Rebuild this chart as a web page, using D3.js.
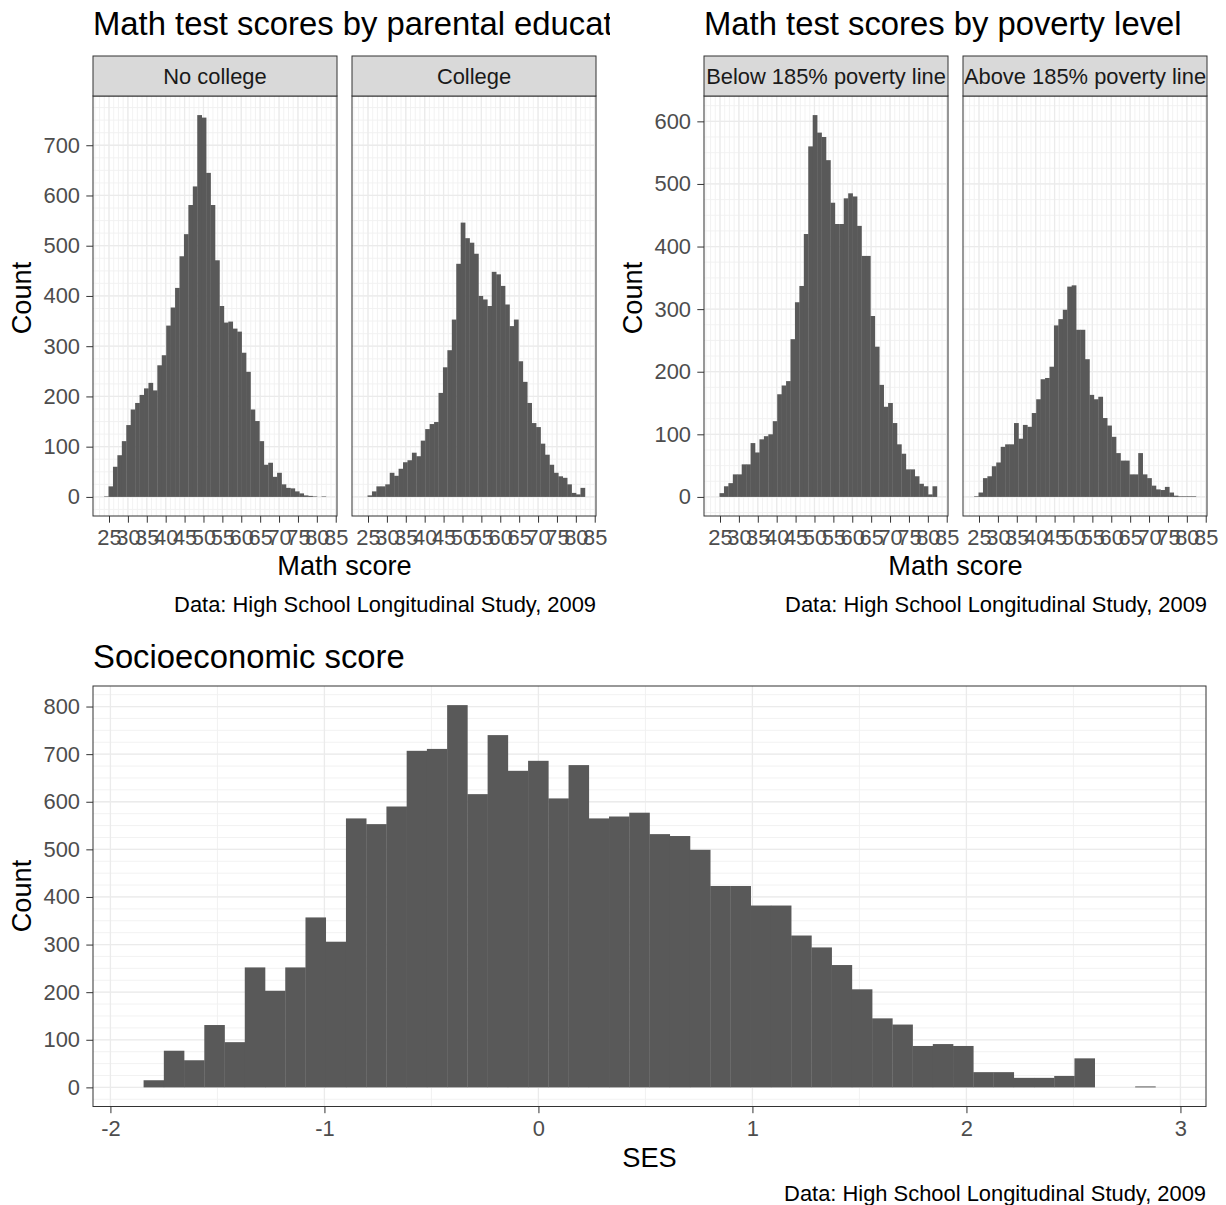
<!DOCTYPE html>
<html>
<head>
<meta charset="utf-8">
<title>HSLS 2009 histograms</title>
<script src="https://d3js.org/d3.v7.min.js"></script>
<style>
  body { margin: 0; background: #fff; }
  svg text { font-family: "Liberation Sans", Arial, Helvetica, sans-serif; }
  .bar { fill: #595959; }
  .grid-major { stroke: #EBEBEB; stroke-width: 1.3; }
  .grid-minor { stroke: #F0F0F0; stroke-width: 0.9; }
  .border { fill: none; stroke: #333; stroke-width: 1; }
  .strip { fill: #D9D9D9; stroke: #333; stroke-width: 1; }
  .title { font-size: 32.8px; fill: #000; }
  .axis-title { font-size: 27.2px; fill: #000; }
  .caption { font-size: 21.9px; fill: #000; }
  .strip-text { font-size: 21.9px; fill: #1A1A1A; }
</style>
</head>
<body>
<script>
    var W = 1226, H = 1205;

    // math score histograms: 50 shared bins
    var mathBinStart = 23.7, mathBinWidth = 1.174;
    var mathTicks = [25, 30, 35, 40, 45, 50, 55, 60, 65, 70, 75, 80, 85];
    var noCollege = [1, 21, 60, 83, 111, 143, 174, 187, 203, 216, 227, 212, 262, 282, 341, 377, 416, 479, 523, 581,
        618, 760, 755, 645, 581, 471, 380, 347, 349, 335, 329, 287, 249, 174, 151, 111, 64, 68, 40, 48,
        25, 18, 17, 11, 7, 3, 2, 1, 0, 1];
    var college = [0, 3, 11, 21, 21, 25, 48, 42, 56, 69, 73, 88, 81, 112, 135, 145, 149, 207, 258, 292,
        353, 464, 546, 515, 506, 484, 400, 393, 380, 448, 443, 420, 383, 340, 353, 270, 229, 187, 147, 139,
        106, 84, 64, 48, 41, 38, 25, 8, 5, 18];
    var belowPoverty = [0, 6, 17, 22, 36, 36, 52, 52, 86, 71, 92, 97, 100, 121, 164, 178, 185, 252, 311, 337,
        420, 560, 610, 582, 575, 538, 470, 436, 436, 477, 485, 480, 433, 385, 385, 289, 240, 179, 144, 150,
        118, 84, 69, 44, 44, 33, 21, 17, 4, 17];
    var abovePoverty = [1, 7, 30, 33, 49, 55, 80, 84, 84, 118, 93, 115, 112, 134, 156, 188, 190, 208, 274, 284,
        299, 336, 338, 267, 267, 220, 163, 156, 160, 126, 114, 96, 70, 58, 58, 36, 36, 70, 36, 30,
        18, 12, 11, 16, 7, 2, 1, 1, 1, 1];
    var parentLabels = ["No college", "College"];
    var povertyLabels = ["Below 185% poverty line", "Above 185% poverty line"];

    // socioeconomic score histogram
    var sesBinStart = -1.845, sesBinWidth = 0.09456;
    var sesTicks = [-2, -1, 0, 1, 2, 3];
    var sesCounts = [15, 77, 57, 131, 95, 252, 203, 252, 357, 306, 565, 553, 590, 707, 711, 803, 616, 740, 665, 686,
        607, 677, 565, 569, 577, 532, 528, 499, 423, 423, 382, 382, 319, 294, 257, 206, 145, 132, 87, 91,
        87, 32, 32, 20, 20, 24, 61, 0, 0, 2];

    var caption = "Data: High School Longitudinal Study, 2009";

    var svg = d3.select("body").append("svg")
        .attr("width", W)
        .attr("height", H);

    function edges(start, w, n) {
        return d3.range(n + 1).map(i => start + i * w);
    }

    // x scale with ggplot's 5% expansion around the bins
    function xScaleFor(e, x0, x1) {
        var lo = e[0], hi = e[e.length - 1], pad = (hi - lo) * 0.05;
        return d3.scaleLinear().domain([lo - pad, hi + pad]).range([x0, x1]);
    }

    function yScaleFor(maxCount, top, bottom) {
        return d3.scaleLinear().domain([-0.05 * maxCount, 1.05 * maxCount]).range([bottom, top]);
    }

    function stepValues(domain, step) {
        var a = Math.ceil(domain[0] / step - 1e-9), b = Math.floor(domain[1] / step + 1e-9);
        return d3.range(a, b + 1).map(i => i * step);
    }

    function panel(g, x, y, e, counts, vStep, vMinorStep, hStep, hMinorStep) {
        var xr = x.range(), yr = y.range();
        g.append("rect")
            .attr("x", xr[0]).attr("y", yr[1])
            .attr("width", xr[1] - xr[0]).attr("height", yr[0] - yr[1])
            .attr("fill", "#fff");

        var vMinor = stepValues(x.domain(), vMinorStep);
        var hMinor = stepValues(y.domain(), hMinorStep);
        g.selectAll(".vmin").data(vMinor).enter().append("line")
            .attr("class", "grid-minor")
            .attr("x1", d => x(d)).attr("x2", d => x(d))
            .attr("y1", yr[1]).attr("y2", yr[0]);
        g.selectAll(".hmin").data(hMinor).enter().append("line")
            .attr("class", "grid-minor")
            .attr("y1", d => y(d)).attr("y2", d => y(d))
            .attr("x1", xr[0]).attr("x2", xr[1]);

        g.selectAll(".vmaj").data(stepValues(x.domain(), vStep)).enter().append("line")
            .attr("class", "grid-major")
            .attr("x1", d => x(d)).attr("x2", d => x(d))
            .attr("y1", yr[1]).attr("y2", yr[0]);
        g.selectAll(".hmaj").data(stepValues(y.domain(), hStep)).enter().append("line")
            .attr("class", "grid-major")
            .attr("y1", d => y(d)).attr("y2", d => y(d))
            .attr("x1", xr[0]).attr("x2", xr[1]);

        g.selectAll(".bar").data(counts).enter().append("rect")
            .attr("class", "bar")
            .attr("x", (d, i) => x(e[i]))
            .attr("width", (d, i) => x(e[i + 1]) - x(e[i]) + 0.3)
            .attr("y", d => y(d))
            .attr("height", d => y(0) - y(d));

        g.append("rect")
            .attr("class", "border")
            .attr("x", xr[0]).attr("y", yr[1])
            .attr("width", xr[1] - xr[0]).attr("height", yr[0] - yr[1]);
    }

    function styleAxis(a) {
        a.select(".domain").remove();
        a.selectAll(".tick line").attr("stroke", "#333").attr("stroke-width", 1);
        a.selectAll(".tick text")
            .attr("fill", "#4D4D4D")
            .style("font-size", "21.9px")
            .style("font-family", "'Liberation Sans', Arial, sans-serif");
    }

    // plain hyphen minus, like R prints it
    var plain = d => String(d);

    function yAxis(g, y, ticks, xPos) {
        var a = g.append("g")
            .attr("transform", "translate(" + xPos + ",0)")
            .call(d3.axisLeft(y).tickValues(ticks).tickFormat(plain).tickSize(6.7).tickPadding(6.3));
        styleAxis(a);
    }

    function xAxis(g, x, ticks, yPos) {
        var a = g.append("g")
            .attr("transform", "translate(0," + yPos + ")")
            .call(d3.axisBottom(x).tickValues(ticks).tickFormat(plain).tickSize(6.7).tickPadding(6.8));
        styleAxis(a);
    }

    // one faceted figure (two panels with strips)
    function facetFigure(o) {
        var g = svg.append("g");
        var clipId = "clip" + o.id;
        svg.append("clipPath").attr("id", clipId)
            .append("rect").attr("x", o.clip[0]).attr("y", 0)
            .attr("width", o.clip[1] - o.clip[0]).attr("height", 60);

        g.append("text").attr("class", "title")
            .attr("clip-path", "url(#" + clipId + ")")
            .attr("x", o.panels[0][0]).attr("y", 34.5)
            .text(o.title);

        var e = edges(mathBinStart, mathBinWidth, o.series[0].length);
        var maxCount = d3.max(o.series, s => d3.max(s));
        var y = yScaleFor(maxCount, 96, 516);

        o.panels.forEach(function (p, i) {
            var x = xScaleFor(e, p[0], p[1]);
            var pg = g.append("g");
            panel(pg, x, y, e, o.series[i], 5, 1.25, 100, 25);

            var sid = "strip" + o.id + i;
            svg.append("clipPath").attr("id", sid)
                .append("rect").attr("x", p[0]).attr("y", 56)
                .attr("width", p[1] - p[0]).attr("height", 40);
            pg.append("rect").attr("class", "strip")
                .attr("x", p[0]).attr("y", 56)
                .attr("width", p[1] - p[0]).attr("height", 40);
            pg.append("text").attr("class", "strip-text")
                .attr("clip-path", "url(#" + sid + ")")
                .attr("x", (p[0] + p[1]) / 2).attr("y", 83.5)
                .attr("text-anchor", "middle")
                .text(o.labels[i]);

            xAxis(pg, x, mathTicks, 516);
            if (i === 0) yAxis(pg, y, d3.range(0, maxCount, 100), p[0]);
        });

        var mid = (o.panels[0][0] + o.panels[1][1]) / 2;
        g.append("text").attr("class", "axis-title")
            .attr("x", mid).attr("y", 575)
            .attr("text-anchor", "middle")
            .text("Math score");
        g.append("text").attr("class", "axis-title")
            .attr("transform", "translate(" + o.countX + ",298) rotate(-90)")
            .attr("text-anchor", "middle")
            .text("Count");
        g.append("text").attr("class", "caption")
            .attr("x", o.panels[1][1]).attr("y", 611.5)
            .attr("text-anchor", "end")
            .text(caption);
    }

    facetFigure({
        id: "a",
        title: "Math test scores by parental education",
        clip: [0, 610],
        panels: [[93, 337], [352, 596]],
        series: [noCollege, college],
        labels: parentLabels,
        countX: 31
    });

    facetFigure({
        id: "b",
        title: "Math test scores by poverty level",
        clip: [613, 1226],
        panels: [[704, 948], [963, 1207]],
        series: [belowPoverty, abovePoverty],
        labels: povertyLabels,
        countX: 642
    });

    // socioeconomic score
    var sg = svg.append("g");
    var se = edges(sesBinStart, sesBinWidth, sesCounts.length);
    var sx = xScaleFor(se, 93, 1206);
    var sy = yScaleFor(d3.max(sesCounts), 686, 1106.5);
    panel(sg, sx, sy, se, sesCounts, 1, 0.5, 100, 25);
    yAxis(sg, sy, d3.range(0, 801, 100), 93);
    xAxis(sg, sx, sesTicks, 1106.5);

    sg.append("text").attr("class", "title")
        .attr("x", 93).attr("y", 668)
        .text("Socioeconomic score");
    sg.append("text").attr("class", "axis-title")
        .attr("x", (93 + 1206) / 2).attr("y", 1167)
        .attr("text-anchor", "middle")
        .text("SES");
    sg.append("text").attr("class", "axis-title")
        .attr("transform", "translate(31,896) rotate(-90)")
        .attr("text-anchor", "middle")
        .text("Count");
    sg.append("text").attr("class", "caption")
        .attr("x", 1206).attr("y", 1201)
        .attr("text-anchor", "end")
        .text(caption);
</script>
</body>
</html>
